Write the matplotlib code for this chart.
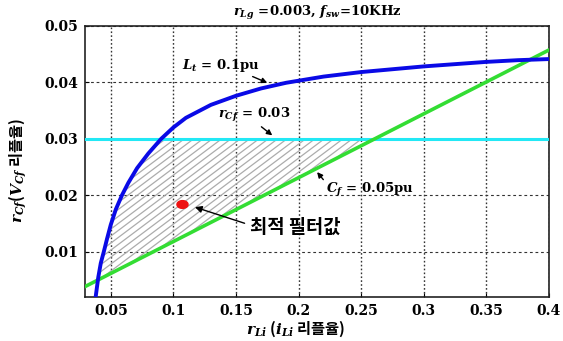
import numpy as np
import matplotlib
matplotlib.use("Agg")
import matplotlib.pyplot as plt
from matplotlib.patches import Polygon

# ---- data ----
lt_x = [0.0379, 0.0388, 0.0400, 0.0420, 0.0444, 0.047, 0.050, 0.054, 0.0589, 0.064,
        0.071, 0.080, 0.0903, 0.100, 0.110, 0.130, 0.150, 0.170, 0.190, 0.220,
        0.250, 0.275, 0.300, 0.325, 0.350, 0.375, 0.400]
lt_y = [0.002, 0.0035, 0.0055, 0.0080, 0.010, 0.0123, 0.0148, 0.0175, 0.020, 0.0222,
        0.0248, 0.0274, 0.030, 0.0320, 0.0337, 0.0360, 0.0376, 0.0389, 0.0399, 0.0410,
        0.0418, 0.0423, 0.0428, 0.0432, 0.0436, 0.0439, 0.0441]
cf_x = [0.029, 0.4]
cf_y = [0.0038, 0.0457]
rcf_level = 0.03
opt_x = [0.107]
opt_y = [0.0184]
xticks = [0.05, 0.1, 0.15, 0.2, 0.25, 0.3, 0.35, 0.4]
xtick_labels = ["0.05", "0.1", "0.15", "0.2", "0.25", "0.3", "0.35", "0.4"]
yticks = [0.01, 0.02, 0.03, 0.04, 0.05]
ytick_labels = ["0.01", "0.02", "0.03", "0.04", "0.05"]

plt.rcParams["font.family"] = ["DejaVu Serif"]
plt.rcParams["font.weight"] = "bold"
plt.rcParams["mathtext.fontset"] = "custom"
plt.rcParams["mathtext.it"] = "DejaVu Serif:italic:bold"
plt.rcParams["mathtext.rm"] = "DejaVu Serif:bold"
plt.rcParams["mathtext.bf"] = "DejaVu Serif:bold"

fig = plt.figure(figsize=(5.63, 3.41), dpi=100)
ax = fig.add_axes([0.151, 0.129, 0.824, 0.7956])
xmin, xmax = 0.0294, 0.4
ymin, ymax = 0.002, 0.05
ax.set_xlim(xmin, xmax)
ax.set_ylim(ymin, ymax)

# hatched feasible region
xd = np.linspace(xmin, 0.3, 600)
upper = np.minimum(np.interp(xd, lt_x, lt_y, left=np.nan), rcf_level)
lower = np.interp(xd, cf_x, cf_y)
mask = upper > lower
xs, us, ls = xd[mask], upper[mask], lower[mask]
verts = list(zip(xs, us)) + list(zip(xs[::-1], ls[::-1]))
poly = Polygon(verts, closed=True, facecolor="none", edgecolor="none")
ax.add_patch(poly)
slope = 0.75 * 464 / 271
for b in np.arange(-1.5, 1.0, 7 / 271):
    ln, = ax.plot([0, 1], [b, b + slope], transform=ax.transAxes,
                  color="#acacac", lw=0.9, zorder=1)
    ln.set_clip_path(poly)

# grid
ax.set_xticks(xticks)
ax.set_xticklabels(xtick_labels)
ax.set_yticks(yticks)
ax.set_yticklabels(ytick_labels)
ax.xaxis.grid(True, linestyle=(0, (1.2, 1.6)), color="#333333", lw=1.0, zorder=0)
ax.yaxis.grid(True, linestyle=(0, (2.5, 2.5)), color="#333333", lw=0.8, zorder=0)
ax.set_axisbelow(True)

# curves
ax.axhline(rcf_level, color="#22e8f5", lw=2.2, zorder=3)
ax.plot(cf_x, cf_y, color="#33dd33", lw=2.6, zorder=3)
ax.plot(lt_x, lt_y, color="#0a0ae6", lw=2.8, zorder=4, solid_joinstyle="round")
t = np.linspace(0, 2 * np.pi, 40)
ell = np.column_stack([np.cos(t), 0.7 * np.sin(t)])
ax.plot(opt_x, opt_y, linestyle="none", marker=ell, markersize=8,
        color="#ee1111", zorder=5)

# annotations
tfont = dict(family="DejaVu Serif", weight="bold", size=9.5)
ax.annotate(r"$L_t$ = 0.1pu", xy=(0.175, 0.0399), xytext=(0.107, 0.0430),
            va="center", ha="left", **tfont,
            arrowprops=dict(arrowstyle="-|>", color="black", lw=1.0,
                            mutation_scale=8, shrinkA=0, shrinkB=0,
                            relpos=(0.82, 0.0)))
ax.annotate(r"$r_{Cf}$ = 0.03", xy=(0.179, 0.0306), xytext=(0.1357, 0.0342),
            va="center", ha="left", **tfont,
            arrowprops=dict(arrowstyle="-|>", color="black", lw=1.0,
                            mutation_scale=8, shrinkA=0, shrinkB=0,
                            relpos=(0.55, 0.0)))
ax.annotate(r"$C_f$ = 0.05pu", xy=(0.2148, 0.0241), xytext=(0.222, 0.0209),
            va="center", ha="left", **tfont,
            arrowprops=dict(arrowstyle="-|>", color="black", lw=1.0,
                            mutation_scale=8, shrinkA=0, shrinkB=0,
                            relpos=(0.0, 0.9)))
ax.annotate("최적 필터값", xy=(0.1172, 0.0179), xytext=(0.1612, 0.0144),
            va="center", ha="left", family="Noto Sans CJK KR", weight="bold",
            size=13.5,
            arrowprops=dict(arrowstyle="-|>", color="black", lw=1.0,
                            mutation_scale=10, shrinkA=2, shrinkB=0,
                            relpos=(0.0, 0.6)))

# ticks and spines
ax.tick_params(direction="in", length=3, width=0.8, pad=5, labelsize=10)
for s in ax.spines.values():
    s.set_linewidth(1.2)
    s.set_color("#222222")

# labels and title
fig.text(0.563, 0.962, r"$r_{Lg}$ =0.003, $f_{sw}$=10KHz", ha="center", va="center",
         family="DejaVu Serif", weight="bold", size=9.5)
fig.text(0.525, 0.035, r"$r_{Li}$ ($i_{Li}$ 리플율)", ha="center", va="center",
         family="Noto Sans CJK KR", weight="bold", size=11)
fig.text(0.032, 0.5, r"$r_{Cf}$($V_{Cf}$ 리플율)", ha="center", va="center",
         rotation=90, family="Noto Sans CJK KR", weight="bold", size=11)

fig.savefig("out.png", dpi=100)
